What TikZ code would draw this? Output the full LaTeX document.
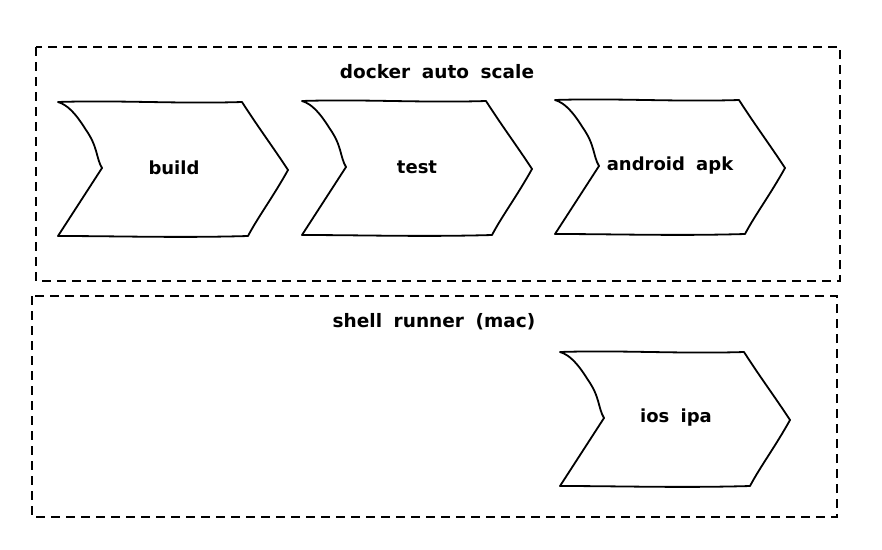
\documentclass[tikz,border=0pt]{standalone}
\usepackage{fontspec}
\setmainfont[WordSpace=1.8]{DejaVu Sans}
\begin{document}
\begin{tikzpicture}[x=1pt,y=-1pt,
  frame/.style={draw=black,line width=1.6pt,dash pattern=on 9pt off 6pt},
  chevron/.style={draw=black,line width=1.8pt,line join=round,fill=white},
  lbl/.style={font=\fontsize{18}{21}\selectfont\bfseries,inner sep=0pt},
  ttl/.style={font=\fontsize{18.5}{22}\selectfont\bfseries,inner sep=0pt}]
\useasboundingbox (0,0) rectangle (882,549);
\newcommand\chevshape[2]{%
  \draw[chevron,shift={(#1,#2)}] (0,0) .. controls (60,-2) and (120,2) .. (184,0)
    .. controls (200,25) and (215,45) .. (230,68)
    .. controls (215,95) and (200,115) .. (190,134)
    .. controls (120,136) and (60,134) .. (0,134)
    -- (44,66)
    .. controls (38,56) and (40,45) .. (28,28)
    .. controls (18,12) and (10,3) .. (0,0) -- cycle;}
\draw[frame] (36,47) rectangle (840,281);
\draw[frame] (32,296) rectangle (837,517);
\node[ttl] (t1) at (437,72) {docker auto scale};
\node[ttl] (t2) at (434,322) {shell runner (mac)};
\chevshape{58}{102}
\chevshape{302}{101}
\chevshape{555}{100}
\chevshape{560}{352}
\node[lbl] (build) at (174,168) {build};
\node[lbl] (test) at (417,167) {test};
\node[lbl] (apk) at (670,166) {android apk};
\node[lbl] (ipa) at (676,418) {ios ipa};
\end{tikzpicture}
\end{document}
